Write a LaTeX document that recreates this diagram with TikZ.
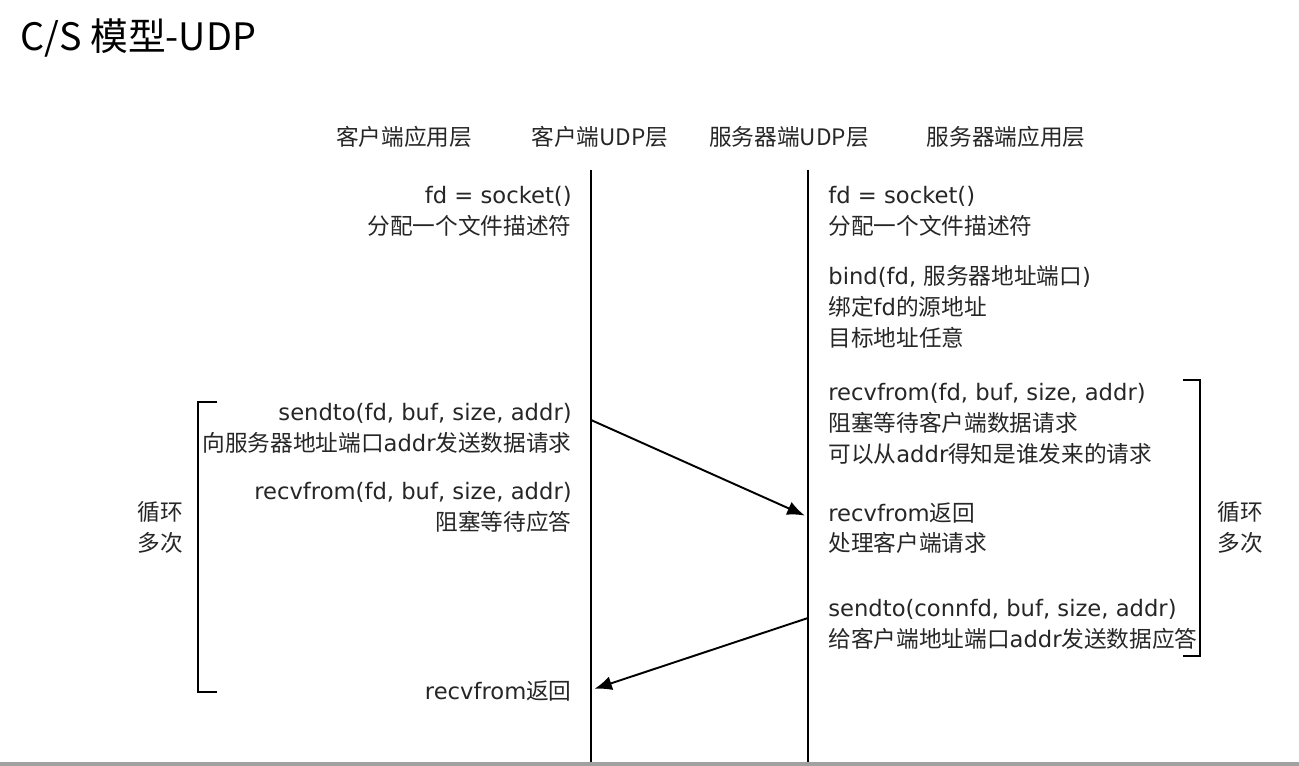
\documentclass[tikz,border=0pt]{standalone}
\usepackage{fontspec}
\setmainfont{DejaVu Sans}
\newfontfamily\cjkfont{Noto Sans CJK SC}
\newcommand\zh[1]{{\cjkfont #1}}
\usetikzlibrary{arrows.meta}

\begin{document}
\begin{tikzpicture}[x=0.02cm,y=-0.02cm,
  txt/.style={inner sep=0pt,font=\fontsize{12.9}{17.6}\selectfont,text=black!85},
  head/.style={txt,font=\fontsize{12.9}{17.6}\cjkfont},
  cside/.style={txt,anchor=north east,align=right},
  sside/.style={txt,anchor=north west,align=left},
  lifeline/.style={line width=1.4pt},
  bracketline/.style={line width=1.4pt},
  msg/.style={-{Latex[length=10pt,width=8pt]},line width=1.1pt,shorten >=2pt}]
  \useasboundingbox (0,0) rectangle (1299,766);
  \fill[black!37] (0,762) rectangle (1299,766);
  % title
  \node[inner sep=0pt,anchor=west,font=\fontsize{21.5}{24}\cjkfont] (title) at (20,38) {C/S 模型-UDP};
  % layer headers
  \foreach \x/\n/\t in {404/h1/客户端应用层,600/h2/客户端UDP层,789/h3/服务器端UDP层,1006/h4/服务器端应用层}
    { \node[head] (\n) at (\x,137) {\t}; }
  % lifelines
  \coordinate (ctop) at (591,170);
  \coordinate (cbot) at (591,762);
  \coordinate (stop) at (808,170);
  \coordinate (sbot) at (808,762);
  \draw[lifeline] (ctop) -- (cbot);
  \draw[lifeline] (stop) -- (sbot);
  % client side
  \node[cside] (cfd) at (572,186) {fd = socket()\\\zh{分配一个文件描述符}};
  \node[cside] (csend) at (572,403) {sendto(fd, buf, size, addr)\\\zh{向服务器地址端口}addr\zh{发送数据请求}};
  \node[cside] (crecv) at (572,482) {recvfrom(fd, buf, size, addr)\\\zh{阻塞等待应答}};
  \node[cside] (cret) at (572,680) {recvfrom\zh{返回}};
  % server side
  \node[sside] (sfd) at (828,186) {fd = socket()\\\zh{分配一个文件描述符}};
  \node[sside] (sbind) at (828,265) {bind(fd, \zh{服务器地址端口})\\\zh{绑定}fd\zh{的源地址}\\\zh{目标地址任意}};
  \node[sside] (srecv) at (828,383) {recvfrom(fd, buf, size, addr)\\\zh{阻塞等待客户端数据请求}\\\zh{可以从}addr\zh{得知是谁发来的请求}};
  \node[sside] (sret) at (828,502) {recvfrom\zh{返回}\\\zh{处理客户端请求}};
  \node[sside] (ssend) at (828,599) {sendto(connfd, buf, size, addr)\\\zh{给客户端地址端口}addr\zh{发送数据应答}};
  % loops
  \draw[bracketline] (217,402) -- (198,402) -- (198,692) -- (217,692);
  \draw[bracketline] (1183,380) -- (1200,380) -- (1200,656) -- (1183,656);
  \node[head,align=center] (cloop) at (160,527) {循环\\多次};
  \node[head,align=center] (sloop) at (1240,527) {循环\\多次};
  % messages
  \coordinate (c1) at (591,420);
  \coordinate (s1) at (808,517);
  \coordinate (s2) at (808,618);
  \coordinate (c2) at (591,690);
  \draw[msg] (c1) -- (s1);
  \draw[msg] (s2) -- (c2);
\end{tikzpicture}
\end{document}
